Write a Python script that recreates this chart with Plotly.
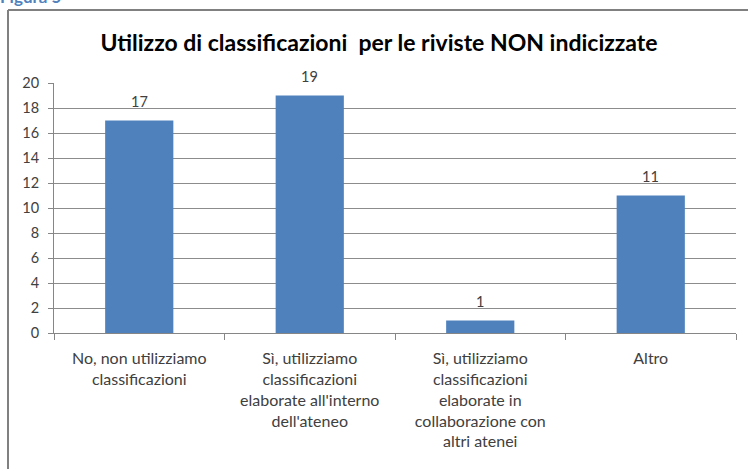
import plotly.graph_objects as go

# data
categories = [
    "No, non utilizziamo<br>classificazioni",
    "Sì, utilizziamo<br>classificazioni<br>elaborate all'interno<br>dell'ateneo",
    "Sì, utilizziamo<br>classificazioni<br>elaborate in<br>collaborazione con<br>altri atenei",
    "Altro",
]
counts = [17, 19, 1, 11]
y_ticks = [0, 2, 4, 6, 8, 10, 12, 14, 16, 18, 20]

W, H = 748, 469
L, R, T, B = 54, 12, 83, 136
text_col = "#404040"
font_fam = "Lato, Open Sans, sans-serif"


def px_x(p):
    return (p - L) / (W - L - R)


def px_y(p):
    return 1 - (p - T) / (H - T - B)


fig = go.Figure()
fig.add_trace(go.Bar(
    x=categories, y=counts,
    marker=dict(color="#4F81BD", line=dict(width=0)),
    hoverinfo="skip",
))

fig.update_layout(
    width=W, height=H,
    margin=dict(l=L, r=R, t=T, b=B),
    paper_bgcolor="white", plot_bgcolor="white",
    bargap=0.6, showlegend=False,
    font=dict(family=font_fam, size=14, color=text_col),
    title=dict(
        text="<b>Utilizzo di classificazioni  per le riviste NON indicizzate</b>",
        x=379 / W, xref="container", xanchor="center",
        y=1 - 43 / H, yanchor="middle",
        font=dict(size=23, color="black", family=font_fam),
    ),
    xaxis=dict(
        showgrid=False, showline=True, linecolor="#868686", linewidth=1,
        ticks="outside", tickson="boundaries", ticklen=6, tickcolor="#868686",
        ticklabelstandoff=11,
        tickfont=dict(size=16, color=text_col),
    ),
    yaxis=dict(
        range=[0, 20], tickvals=y_ticks, showgrid=True, gridcolor="#8c8c8c",
        gridwidth=1, showline=True, linecolor="#868686", ticks="outside",
        ticklen=5, tickcolor="#868686", zeroline=False, ticklabelstandoff=6,
        tickfont=dict(size=14.5, color=text_col),
    ),
    shapes=[
        dict(type="line", xref="paper", yref="paper",
             x0=px_x(8), x1=px_x(8), y0=px_y(10), y1=px_y(H + 5),
             line=dict(color="#808080", width=2)),
        dict(type="line", xref="paper", yref="paper",
             x0=px_x(8), x1=px_x(W + 5), y0=px_y(10), y1=px_y(10),
             line=dict(color="#808080", width=2)),
    ],
)

# partly cut-off caption at the top
fig.add_annotation(text="<b>Figura 5</b>", xref="paper", yref="paper",
                   x=px_x(-2), y=px_y(9), xanchor="left", yanchor="bottom",
                   showarrow=False,
                   font=dict(size=17, color="#4F81BD", family=font_fam))

# value labels above bars
for c, v in zip(categories, counts):
    fig.add_annotation(x=c, y=v, text=str(v), showarrow=False,
                       yanchor="bottom", yshift=9,
                       font=dict(size=14.5, color=text_col, family=font_fam))

fig.write_html("out.html", config={"displayModeBar": False},
               post_script="document.body.style.margin='0';")
